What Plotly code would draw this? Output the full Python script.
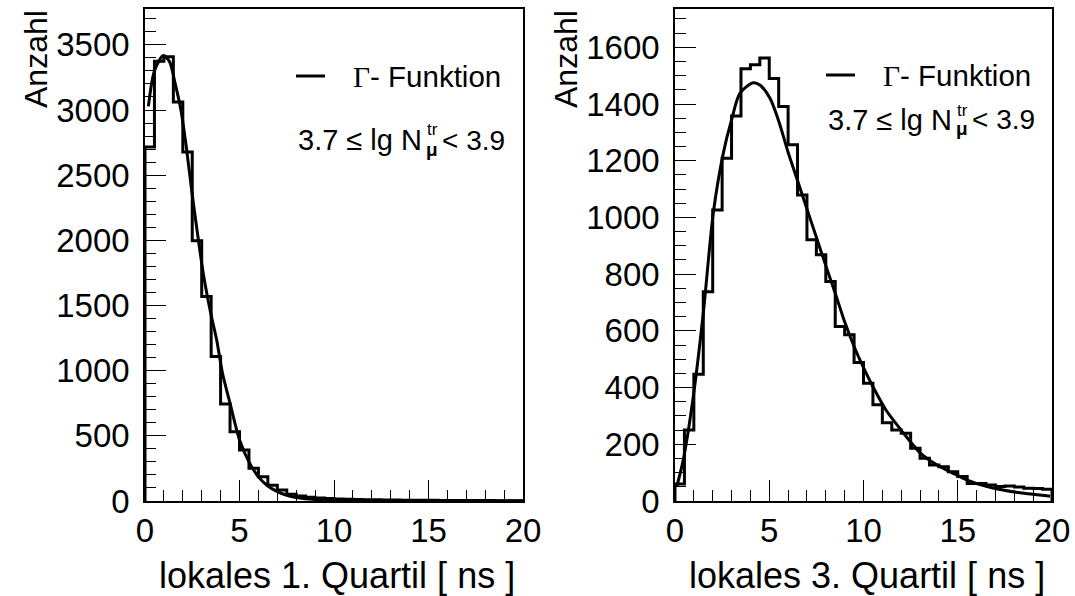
import plotly.graph_objects as go

W, H = 1075, 596

# ---------------- data ----------------
BIN_WIDTH = 0.5
bin_edges = [i * BIN_WIDTH for i in range(41)]

counts_q1 = [2717, 3374, 3408, 3062, 2678, 1997, 1569, 1108, 745, 532,
             392, 251, 187, 120, 84, 51, 38, 28, 23, 19,
             16, 13, 11, 10, 9, 8, 7, 6, 6, 5,
             5, 4, 4, 4, 3, 3, 3, 2, 2, 2]

counts_q3 = [60, 250, 447, 738, 1026, 1209, 1358, 1524, 1538, 1562,
             1490, 1391, 1256, 1079, 921, 868, 774, 615, 586, 488,
             415, 339, 276, 250, 239, 186, 151, 127, 121, 103,
             86, 62, 62, 56, 51, 53, 49, 45, 44, 41]

fit_q1_x = [0.18, 0.5, 0.97, 1.3, 1.6, 1.9, 2.2, 2.5, 2.8, 3.1, 3.45, 3.8, 4.1,
            4.5, 5.0, 5.5, 6.0, 6.5, 7.0, 7.5, 8.0, 8.7, 9.5, 11.0, 13.0, 16.0, 20.0]
fit_q1_y = [3028, 3300, 3418, 3370, 3200, 3000, 2700, 2350, 2030, 1730, 1460, 1230, 980,
            750, 470, 300, 185, 115, 72, 44, 27, 15, 7, 2, 0.5, 0.1, 0.0]

fit_q3_x = [0.09, 0.44, 0.97, 1.5, 2.03, 2.56, 3.0, 3.45, 4.15, 4.5, 5.04, 5.5, 6.0,
            6.5, 7.0, 7.5, 8.0, 8.5, 9.0, 9.5, 10.0, 10.5, 11.2, 12.0, 13.0, 13.9,
            14.8, 15.5, 16.5, 17.4, 18.3, 19.9]
fit_q3_y = [50, 145, 368, 662, 1015, 1226, 1344, 1438, 1475, 1467, 1420, 1340, 1230,
            1130, 1030, 930, 830, 733, 632, 545, 470, 403, 320, 250, 170, 127,
            96, 74, 52, 39, 29, 17]

y_range_q1 = [0, 3775]
y_range_q3 = [0, 1735]
x_range = [0, 20]

FONT = "Liberation Sans"


def step_xy(edges, counts):
    xs = [edges[0]] + list(edges[:-1]) + [edges[-1], edges[-1]]
    ys = [0] + list(counts) + [counts[-1], 0]
    return xs, ys


def px(x):
    return x / W


def py(y):
    return 1 - y / H


fig = go.Figure()

for counts, fx, fy, xa, ya in [
    (counts_q1, fit_q1_x, fit_q1_y, "x", "y"),
    (counts_q3, fit_q3_x, fit_q3_y, "x2", "y2"),
]:
    sx, sy = step_xy(bin_edges, counts)
    fig.add_trace(go.Scatter(x=sx, y=sy, mode="lines", line=dict(color="black", width=3, shape="hv"),
                             xaxis=xa, yaxis=ya, showlegend=False, hoverinfo="skip"))
    fig.add_trace(go.Scatter(x=fx, y=fy, mode="lines", line=dict(color="black", width=3, shape="spline", smoothing=0.8),
                             xaxis=xa, yaxis=ya, showlegend=False, hoverinfo="skip"))

tickfont = dict(family=FONT, size=33, color="black")


def xaxis_cfg(dom):
    return dict(domain=dom, range=x_range, showline=True, mirror=True, linecolor="black", linewidth=1.5,
                ticks="inside", ticklen=21, tickwidth=1, tickcolor="black", tick0=0, dtick=5,
                minor=dict(ticks="inside", ticklen=11, tickwidth=1, tickcolor="black", dtick=1, tick0=0),
                showgrid=False, zeroline=False, tickfont=tickfont, ticklabelstandoff=0, automargin=False)


def yaxis_cfg(anchor, rng, dt, mdt):
    return dict(domain=[py(501), py(9)], range=rng, anchor=anchor, showline=True, mirror=True,
                linecolor="black", linewidth=1.5, ticks="inside", ticklen=21, tickwidth=1, tickcolor="black",
                tick0=0, dtick=dt, minor=dict(ticks="inside", ticklen=11, tickwidth=1, tickcolor="black", dtick=mdt, tick0=0),
                showgrid=False, zeroline=False, tickfont=tickfont, ticklabelstandoff=7, automargin=False)


fig.update_layout(
    width=W, height=H, margin=dict(l=0, r=0, t=0, b=0, pad=0, autoexpand=False),
    paper_bgcolor="white", plot_bgcolor="white",
    xaxis=xaxis_cfg([px(145), px(523)]) | dict(anchor="y"),
    yaxis=yaxis_cfg("x", y_range_q1, 500, 100),
    xaxis2=xaxis_cfg([px(675), px(1052)]) | dict(anchor="y2"),
    yaxis2=yaxis_cfg("x2", y_range_q3, 200, 50),
    showlegend=False,
)

ann = []
shapes = []


def txt(x, y, s, size, xanchor="left", yanchor="middle", angle=0, family=FONT):
    ann.append(dict(x=px(x), y=py(y), xref="paper", yref="paper", text=s, showarrow=False,
                    xanchor=xanchor, yanchor=yanchor, textangle=angle,
                    font=dict(family=family, size=size, color="black")))


for (ox, line_y, txt_y, lab) in [(0, 76, 140, "lokales 1. Quartil [ ns ]"),
                                  (530, 75, 120, "lokales 3. Quartil [ ns ]")]:
    # axis titles
    txt(36 + ox, 8, "Anzahl", 32, xanchor="center", yanchor="top", angle=-90)
    txt(517 + ox, 575, lab, 36, xanchor="right")
    # legend sample
    shapes.append(dict(type="line", xref="paper", yref="paper", x0=px(296 + ox), x1=px(325 + ox),
                       y0=py(line_y), y1=py(line_y), line=dict(color="black", width=3)))
    txt(351 + ox, line_y, "<span style='font-family:Liberation Serif'>Γ</span>- Funktion", 29.5)
    # cut text
    txt(424 + ox, txt_y, "3.7 ≤ lg N", 29, xanchor="right")
    txt(425 + ox, txt_y - 10, "tr", 17)
    txt(424 + ox, txt_y + 9, "<b>μ</b>", 19)
    txt(440 + ox, txt_y, "< 3.9", 28)

fig.update_layout(annotations=ann, shapes=shapes)

fig.write_html("out.html")
